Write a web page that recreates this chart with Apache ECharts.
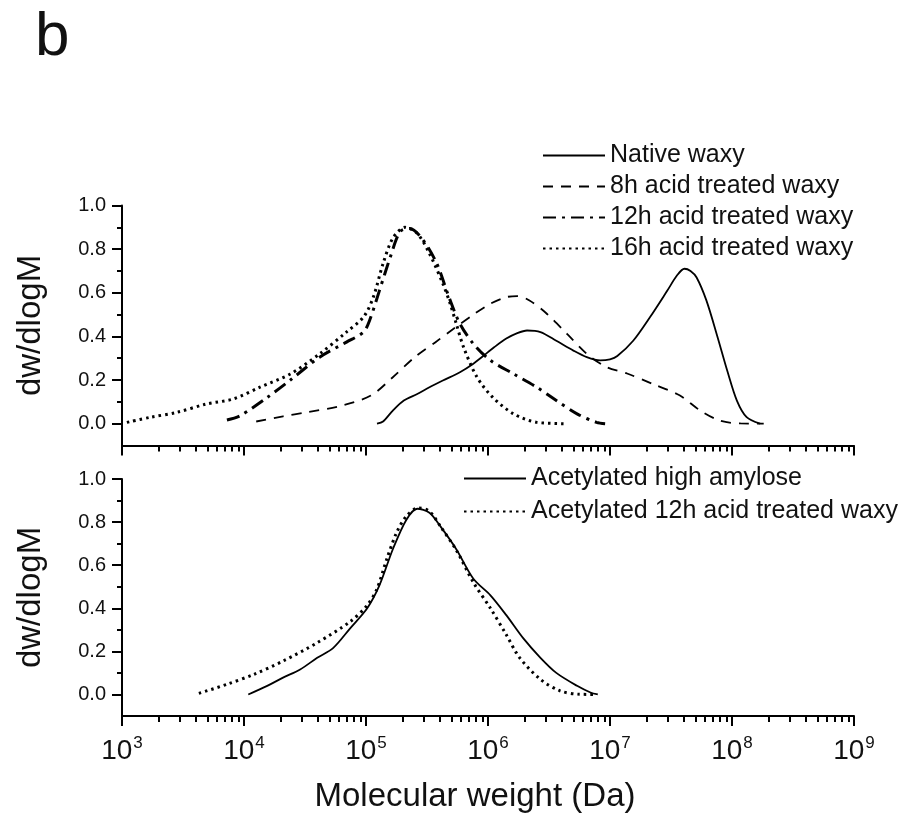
<!DOCTYPE html>
<html>
<head>
<meta charset="utf-8">
<script src="https://cdn.jsdelivr.net/npm/echarts@6/dist/echarts.min.js"></script>
<style>
html,body{margin:0;padding:0;background:#fff;}
#chart{width:921px;height:814px;}
</style>
</head>
<body>
<div id="chart"></div>
<script>
// ---- Data: log10(Molecular weight, Da) and dw/dlogM ----
const nativeLogM = [5.09,5.14,5.22,5.31,5.42,5.52,5.63,5.77,5.88,5.96,6.05,6.15,6.24,6.32,6.43,6.56,6.70,6.81,6.92,7.00,7.06,7.19,7.33,7.47,7.55,7.61,7.66,7.71,7.79,7.88,7.96,8.04,8.12,8.23];
const nativeY    = [0,0.01,0.06,0.106,0.136,0.167,0.198,0.236,0.275,0.31,0.35,0.39,0.415,0.427,0.42,0.38,0.335,0.305,0.29,0.295,0.31,0.38,0.49,0.61,0.68,0.71,0.70,0.67,0.565,0.40,0.245,0.106,0.03,0.0];

const acid8LogM = [4.10,4.32,4.51,4.79,5.04,5.22,5.40,5.58,5.73,5.88,6.02,6.15,6.24,6.34,6.48,6.65,6.81,6.97,7.14,7.36,7.57,7.74,7.90,8.07,8.26];
const acid8Y    = [0.01,0.034,0.052,0.081,0.129,0.213,0.305,0.378,0.44,0.50,0.55,0.58,0.585,0.565,0.505,0.41,0.32,0.26,0.23,0.18,0.13,0.06,0.014,0.001,0];

const acid12LogM = [3.86,3.97,4.19,4.38,4.62,4.84,4.98,5.03,5.11,5.20,5.28,5.36,5.47,5.58,5.68,5.77,5.88,6.02,6.21,6.40,6.56,6.73,6.89,6.96];
const acid12Y    = [0.017,0.037,0.12,0.2,0.305,0.374,0.42,0.474,0.61,0.765,0.88,0.895,0.84,0.734,0.58,0.458,0.366,0.29,0.228,0.167,0.106,0.045,0.006,0];

const acid16LogM = [3.04,3.23,3.45,3.69,3.91,4.13,4.38,4.62,4.84,4.98,5.06,5.14,5.22,5.32,5.42,5.52,5.63,5.69,5.74,5.80,5.91,6.04,6.21,6.40,6.65];
const acid16Y    = [0.006,0.029,0.052,0.09,0.113,0.167,0.228,0.32,0.42,0.489,0.58,0.734,0.85,0.9,0.872,0.78,0.642,0.55,0.458,0.35,0.213,0.12,0.045,0.006,0];

const amyloseLogM = [4.035,4.19,4.32,4.46,4.60,4.73,4.87,5.01,5.11,5.22,5.33,5.42,5.52,5.61,5.74,5.88,6.02,6.15,6.29,6.43,6.56,6.73,6.84,6.90];
const amyloseY    = [0,0.04,0.078,0.116,0.17,0.215,0.307,0.40,0.506,0.674,0.81,0.862,0.843,0.78,0.674,0.537,0.46,0.368,0.26,0.17,0.10,0.04,0.009,0];

const acet12LogM = [3.63,3.86,4.08,4.32,4.60,4.87,5.01,5.09,5.17,5.25,5.33,5.43,5.52,5.61,5.74,5.88,6.02,6.15,6.26,6.43,6.59,6.75,6.89];
const acet12Y    = [0.005,0.047,0.093,0.155,0.24,0.338,0.414,0.49,0.628,0.75,0.827,0.866,0.85,0.78,0.67,0.52,0.40,0.277,0.17,0.07,0.017,0.001,0];

const topNames = ['Native waxy','8h acid treated waxy','12h acid treated waxy','16h acid treated waxy'];
const bottomNames = ['Acetylated high amylose','Acetylated 12h acid treated waxy'];
const xTickExps = [3,4,5,6,7,8,9];
const yTickValues = [0,0.2,0.4,0.6,0.8,1.0];
const yMinorValues = [0.1,0.3,0.5,0.7,0.9];

// ---- Build ----
const pair = (xs, ys) => xs.map((x, i) => [x, ys[i]]);
const xMinor = [];
for (let n = 3; n < 9; n++) for (let k = 2; k <= 9; k++) xMinor.push(n + Math.log10(k));

const FONT = '"Liberation Sans", Arial, sans-serif';
const BLACK = '#000';

function xAxes(g, showLabels) {
  return [
    {
      type: 'value', gridIndex: g, position: 'bottom', min: 3, max: 9,
      axisLine: { show: true, onZero: false, lineStyle: { color: BLACK, width: 2 } },
      axisTick: { show: true, inside: false, length: 10, lineStyle: { color: BLACK, width: 2 }, customValues: xTickExps },
      axisLabel: {
        show: showLabels, customValues: xTickExps, margin: 19,
        formatter: v => '{b|10}{s|' + Math.round(v) + '}',
        rich: {
          b: { fontFamily: FONT, fontSize: 28, color: '#111', lineHeight: 30, verticalAlign: 'bottom' },
          s: { fontFamily: FONT, fontSize: 17, color: '#111', lineHeight: 30, verticalAlign: 'top', padding: [0, 0, 0, 1] }
        }
      },
      splitLine: { show: false },
      name: showLabels ? 'Molecular weight (Da)' : '',
      nameLocation: 'middle', nameGap: 64,
      nameTextStyle: { fontFamily: FONT, fontSize: 33, color: '#111', padding: [0, 26, 0, 0] }
    },
    {
      type: 'value', gridIndex: g, position: 'bottom', min: 3, max: 9,
      axisLine: { show: false, onZero: false },
      axisTick: { show: true, inside: false, length: 6, lineStyle: { color: BLACK, width: 2 }, customValues: xMinor },
      axisLabel: { show: false },
      splitLine: { show: false }
    }
  ];
}
function yAxes(g) {
  return [
    {
      type: 'value', gridIndex: g, position: 'left', min: -0.1, max: 1.0,
      axisLine: { show: true, onZero: false, lineStyle: { color: BLACK, width: 2 } },
      axisTick: { show: true, inside: false, length: 10, lineStyle: { color: BLACK, width: 2 }, customValues: yTickValues },
      axisLabel: { customValues: yTickValues, formatter: v => v.toFixed(1), fontFamily: FONT, fontSize: 20, color: '#111', margin: 16 },
      splitLine: { show: false },
      name: 'dw/dlogM', nameLocation: 'middle', nameGap: 75, nameRotate: 90,
      nameTextStyle: { fontFamily: FONT, fontSize: 33, color: '#111' }
    },
    {
      type: 'value', gridIndex: g, position: 'left', min: -0.1, max: 1.0,
      axisLine: { show: false, onZero: false },
      axisTick: { show: true, inside: false, length: 5, lineStyle: { color: BLACK, width: 2 }, customValues: yMinorValues },
      axisLabel: { show: false },
      splitLine: { show: false }
    }
  ];
}

function lineSeries(name, data, g, style) {
  return {
    type: 'line', name, data, xAxisIndex: g * 2, yAxisIndex: g * 2,
    symbol: 'none', showSymbol: false, smooth: 0.3,
    lineStyle: Object.assign({ color: BLACK }, style),
    itemStyle: { color: BLACK },
    z: 3
  };
}

const legendCommon = {
  orient: 'vertical', itemWidth: 62, itemHeight: 14, itemGap: 0, selectedMode: false,
  itemStyle: { opacity: 0 }
};

const option = {
  animation: false,
  backgroundColor: '#fff',
  title: { text: 'b', left: 30, top: 2, textStyle: { fontFamily: FONT, fontSize: 62, fontWeight: 'normal', color: '#111' } },
  grid: [
    { left: 122, top: 205.5, width: 732, height: 240 },
    { left: 122, top: 479, width: 732, height: 240 }
  ],
  xAxis: [...xAxes(0, false), ...xAxes(1, true)],
  yAxis: [...yAxes(0), ...yAxes(1)],
  legend: [
    Object.assign({}, legendCommon, {
      data: topNames, left: 537, top: 135,
      textStyle: { fontFamily: FONT, fontSize: 25, color: '#111', lineHeight: 31 }
    }),
    Object.assign({}, legendCommon, {
      data: bottomNames, left: 458, top: 457,
      textStyle: { fontFamily: FONT, fontSize: 25, color: '#111', lineHeight: 33 }
    })
  ],
  series: [
    lineSeries(topNames[0], pair(nativeLogM, nativeY), 0, { width: 1.8, type: 'solid' }),
    lineSeries(topNames[1], pair(acid8LogM, acid8Y), 0, { width: 1.8, type: [10, 8] }),
    lineSeries(topNames[2], pair(acid12LogM, acid12Y), 0, { width: 3, type: [13, 6, 3, 6] }),
    lineSeries(topNames[3], pair(acid16LogM, acid16Y), 0, { width: 3, type: [2.5, 4] }),
    lineSeries(bottomNames[0], pair(amyloseLogM, amyloseY), 1, { width: 1.8, type: 'solid' }),
    lineSeries(bottomNames[1], pair(acet12LogM, acet12Y), 1, { width: 3, type: [2.5, 4] })
  ]
};

const chart = echarts.init(document.getElementById('chart'), null, { renderer: 'canvas' });
chart.setOption(option);
</script>
</body>
</html>
